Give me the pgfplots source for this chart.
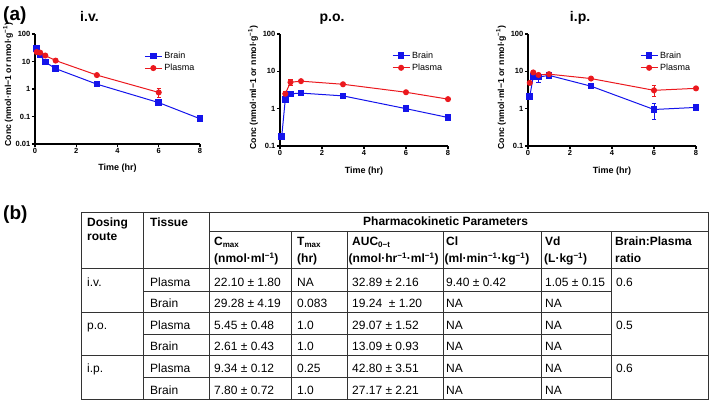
\documentclass[border=0pt]{standalone}
\usepackage{fontspec}
\setmainfont{Liberation Sans}
\usepackage{pgfplots}
\pgfplotsset{compat=1.18}
\definecolor{mblue}{RGB}{20,20,235}
\definecolor{mred}{RGB}{235,25,30}
\newcommand{\tf}{\fontsize{12}{14}\selectfont}
\newcommand{\tb}{\fontsize{12}{14}\selectfont\bfseries}
\begin{document}
\begin{tikzpicture}
\useasboundingbox (0,0) rectangle (709pt,401pt);
% ---------- i.v. ----------
\begin{axis}[at={(35pt,257pt)}, anchor=south west, width=165pt, height=110pt,
   scale only axis, clip=false,
   axis x line*=bottom, axis y line*=left,
   axis line style={line width=1.3pt,black},
   ymode=log, xmin=0, xmax=8,
   xtick={0,2,4,6,8}, xticklabels={0,2,4,6,8},
   yminorticks=false,
   tick align=outside, major tick length=3pt,
   major tick style={black, line width=1.1pt},
   ticklabel style={font=\fontsize{7.5}{9}\selectfont\bfseries, inner sep=1.5pt},
   xlabel={Time (hr)},
   xlabel style={font=\fontsize{9}{10}\selectfont\bfseries, at={(axis description cs:0.5,-0.245)}, anchor=base},
   ylabel={Conc (nmol·ml−1 or nmol·g\textsuperscript{−1})},
   ylabel style={font=\fontsize{8.7}{10}\selectfont\bfseries, at={(axis description cs:-0.163,0.54)}, anchor=center},
   legend style={draw=none, fill=none, at={(axis description cs:0.655,0.865)}, anchor=north west, font=\fontsize{9}{10}\selectfont, inner sep=1pt},
   legend cell align=left,
   ymin=0.01, ymax=100, ytick={0.01,0.1,1,10,100}, yticklabels={0.01,0.1,1,10,100},
   title={i.v.}, title style={font=\fontsize{14}{16}\selectfont\bfseries, anchor=base, at={(axis description cs:0.33,1.055)}}]
\addplot[color=mblue, line width=1pt, mark=square*, mark size=2.8pt,
   error bars/.cd, y dir=both, y explicit,
   error bar style={line width=0.8pt},
   error mark options={rotate=90, mark size=2.2pt, line width=0.8pt}] coordinates {
 (0.083,29.28) +- (0,4.19)
 (0.25,17) +- (0,2)
 (0.5,9.5) +- (0,1)
 (1,5.5) +- (0,0.5)
 (3,1.5) +- (0,0.1)
 (6,0.32) +- (0,0.06)
 (8,0.083) +- (0,0.005)
};
\addplot[color=mred, line width=1pt, mark=*, mark size=2.5pt,
   error bars/.cd, y dir=both, y explicit,
   error bar style={line width=0.8pt},
   error mark options={rotate=90, mark size=2.2pt, line width=0.8pt}] coordinates {
 (0.083,22.1) +- (0,1.8)
 (0.25,21) +- (0,1.5)
 (0.5,16.5) +- (0,1)
 (1,10.8) +- (0,0.5)
 (3,3.2) +- (0,0.2)
 (6,0.75) +- (0,0.27)
};
\legend{Brain,Plasma}
\end{axis}
% ---------- p.o. ----------
\begin{axis}[at={(280pt,255pt)}, anchor=south west, width=168pt, height=112pt,
   scale only axis, clip=false,
   axis x line*=bottom, axis y line*=left,
   axis line style={line width=1.3pt,black},
   ymode=log, xmin=0, xmax=8,
   xtick={0,2,4,6,8}, xticklabels={0,2,4,6,8},
   yminorticks=false,
   tick align=outside, major tick length=3pt,
   major tick style={black, line width=1.1pt},
   ticklabel style={font=\fontsize{7.5}{9}\selectfont\bfseries, inner sep=1.5pt},
   xlabel={Time (hr)},
   xlabel style={font=\fontsize{9}{10}\selectfont\bfseries, at={(axis description cs:0.5,-0.245)}, anchor=base},
   ylabel={Conc (nmol·ml−1 or nmol·g\textsuperscript{−1})},
   ylabel style={font=\fontsize{8.7}{10}\selectfont\bfseries, at={(axis description cs:-0.16,0.52)}, anchor=center},
   legend style={draw=none, fill=none, at={(axis description cs:0.66,0.87)}, anchor=north west, font=\fontsize{9}{10}\selectfont, inner sep=1pt},
   legend cell align=left,
   ymin=0.1, ymax=100, ytick={0.1,1,10,100}, yticklabels={0.1,1,10,100},
   title={p.o.}, title style={font=\fontsize{14}{16}\selectfont\bfseries, anchor=base, at={(axis description cs:0.31,1.055)}}]
\addplot[color=mblue, line width=1pt, mark=square*, mark size=2.8pt,
   error bars/.cd, y dir=both, y explicit,
   error bar style={line width=0.8pt},
   error mark options={rotate=90, mark size=2.2pt, line width=0.8pt}] coordinates {
 (0.083,0.18) +- (0,0.02)
 (0.25,1.75) +- (0,0.3)
 (0.5,2.5) +- (0,0.3)
 (1,2.61) +- (0,0.3)
 (3,2.2) +- (0,0.15)
 (6,1.0) +- (0,0.05)
 (8,0.58) +- (0,0.06)
};
\addplot[color=mred, line width=1pt, mark=*, mark size=2.5pt,
   error bars/.cd, y dir=both, y explicit,
   error bar style={line width=0.8pt},
   error mark options={rotate=90, mark size=2.2pt, line width=0.8pt}] coordinates {
 (0.25,2.5) +- (0,0.45)
 (0.5,5.1) +- (0,0.9)
 (1,5.45) +- (0,0.48)
 (3,4.5) +- (0,0.3)
 (6,2.75) +- (0,0.15)
 (8,1.8) +- (0,0.1)
};
\legend{Brain,Plasma}
\end{axis}
% ---------- i.p. ----------
\begin{axis}[at={(528pt,255pt)}, anchor=south west, width=168pt, height=112pt,
   scale only axis, clip=false,
   axis x line*=bottom, axis y line*=left,
   axis line style={line width=1.3pt,black},
   ymode=log, xmin=0, xmax=8,
   xtick={0,2,4,6,8}, xticklabels={0,2,4,6,8},
   yminorticks=false,
   tick align=outside, major tick length=3pt,
   major tick style={black, line width=1.1pt},
   ticklabel style={font=\fontsize{7.5}{9}\selectfont\bfseries, inner sep=1.5pt},
   xlabel={Time (hr)},
   xlabel style={font=\fontsize{9}{10}\selectfont\bfseries, at={(axis description cs:0.5,-0.245)}, anchor=base},
   ylabel={Conc (nmol·ml−1 or nmol·g\textsuperscript{−1})},
   ylabel style={font=\fontsize{8.7}{10}\selectfont\bfseries, at={(axis description cs:-0.16,0.52)}, anchor=center},
   legend style={draw=none, fill=none, at={(axis description cs:0.66,0.87)}, anchor=north west, font=\fontsize{9}{10}\selectfont, inner sep=1pt},
   legend cell align=left,
   ymin=0.1, ymax=100, ytick={0.1,1,10,100}, yticklabels={0.1,1,10,100},
   title={i.p.}, title style={font=\fontsize{14}{16}\selectfont\bfseries, anchor=base, at={(axis description cs:0.31,1.055)}}]
\addplot[color=mblue, line width=1pt, mark=square*, mark size=2.8pt,
   error bars/.cd, y dir=both, y explicit,
   error bar style={line width=0.8pt},
   error mark options={rotate=90, mark size=2.2pt, line width=0.8pt}] coordinates {
 (0.083,2.1) +- (0,0.3)
 (0.25,7.3) +- (0,1)
 (0.5,7.0) +- (0,2)
 (1,7.8) +- (0,0.72)
 (3,4.0) +- (0,0.3)
 (6,0.95) +- (0,0.42)
 (8,1.08) +- (0,0.12)
};
\addplot[color=mred, line width=1pt, mark=*, mark size=2.5pt,
   error bars/.cd, y dir=both, y explicit,
   error bar style={line width=0.8pt},
   error mark options={rotate=90, mark size=2.2pt, line width=0.8pt}] coordinates {
 (0.083,4.9) +- (0,0.5)
 (0.25,9.34) +- (0,0.5)
 (0.5,8.0) +- (0,1.0)
 (1,8.4) +- (0,0.5)
 (3,6.4) +- (0,0.4)
 (6,3.1) +- (0,1.0)
 (8,3.5) +- (0,0.3)
};
\legend{Brain,Plasma}
\end{axis}
% ---------- panel labels and table (pixel coordinates) ----------
\begin{scope}[x=1pt,y=-1pt,shift={(0pt,401pt)}]
\node[anchor=base west, inner sep=0, font=\fontsize{19}{21}\selectfont\bfseries] at (3,21) {(a)};
\node[anchor=base west, inner sep=0, font=\fontsize{19}{21}\selectfont\bfseries] at (3,220) {(b)};
\begin{scope}[line width=0.8pt, draw=black!80]
\draw (81,212) rectangle (708,399);
\draw (209,231) -- (708,231);
\draw (81,268.5) -- (708,268.5);
\foreach \yy in {312,355} \draw (81,\yy) -- (708,\yy);
\foreach \yy in {291,334,377} \draw (143,\yy) -- (611,\yy);
\draw (143,212) -- (143,399);
\draw (209,212) -- (209,399);
\foreach \xx in {291,347,443,541,611} \draw (\xx,231) -- (\xx,399);
\end{scope}
\begin{scope}[every node/.style={anchor=base west, inner sep=0}]
\node[font=\tb] at (87,227) {Dosing};
\node[font=\tb] at (87,241) {route};
\node[font=\tb] at (150,227) {Tissue};
\node[font=\tb] at (363,226) {Pharmacokinetic Parameters};
\node[font=\tb] at (214,246) {C\textsubscript{max}};
\node[font=\tb] at (214,263) {(nmol·ml\textsuperscript{−1})};
\node[font=\tb] at (297,246) {T\textsubscript{max}};
\node[font=\tb] at (297,263) {(hr)};
\node[font=\tb] at (352,246) {AUC\textsubscript{0−t}};
\node[font=\tb] at (348.5,263) {(nmol·hr\textsuperscript{−1}·ml\textsuperscript{−1})};
\node[font=\tb] at (446,246) {Cl};
\node[font=\tb] at (444.5,263) {(ml·min\textsuperscript{−1}·kg\textsuperscript{−1})};
\node[font=\tb] at (545,246) {Vd};
\node[font=\tb] at (544,263) {(L·kg\textsuperscript{−1})};
\node[font=\tb] at (615,246) {Brain:Plasma};
\node[font=\tb] at (615,263) {ratio};
\node[font=\tf] at (87,286.5) {i.v.};
\node[font=\tf] at (87,329.5) {p.o.};
\node[font=\tf] at (87,372.5) {i.p.};
\node[font=\tf] at (150,286.5) {Plasma};
\node[font=\tf] at (150,307.5) {Brain};
\node[font=\tf] at (150,329.5) {Plasma};
\node[font=\tf] at (150,350.5) {Brain};
\node[font=\tf] at (150,372.5) {Plasma};
\node[font=\tf] at (150,394.5) {Brain};
\node[font=\tf] at (214,286.5) {22.10 ± 1.80};
\node[font=\tf] at (214,307.5) {29.28 ± 4.19};
\node[font=\tf] at (214,329.5) {5.45 ± 0.48};
\node[font=\tf] at (214,350.5) {2.61 ± 0.43};
\node[font=\tf] at (214,372.5) {9.34 ± 0.12};
\node[font=\tf] at (214,394.5) {7.80 ± 0.72};
\node[font=\tf] at (297,286.5) {NA};
\node[font=\tf] at (297,307.5) {0.083};
\node[font=\tf] at (297,329.5) {1.0};
\node[font=\tf] at (297,350.5) {1.0};
\node[font=\tf] at (297,372.5) {0.25};
\node[font=\tf] at (297,394.5) {1.0};
\node[font=\tf] at (352,286.5) {32.89 ± 2.16};
\node[font=\tf] at (352,307.5) {19.24 \ ± 1.20};
\node[font=\tf] at (352,329.5) {29.07 ± 1.52};
\node[font=\tf] at (352,350.5) {13.09 ± 0.93};
\node[font=\tf] at (352,372.5) {42.80 ± 3.51};
\node[font=\tf] at (352,394.5) {27.17 ± 2.21};
\node[font=\tf] at (446,286.5) {9.40 ± 0.42};
\node[font=\tf] at (446,307.5) {NA};
\node[font=\tf] at (446,329.5) {NA};
\node[font=\tf] at (446,350.5) {NA};
\node[font=\tf] at (446,372.5) {NA};
\node[font=\tf] at (446,394.5) {NA};
\node[font=\tf] at (545,286.5) {1.05 ± 0.15};
\node[font=\tf] at (545,307.5) {NA};
\node[font=\tf] at (545,329.5) {NA};
\node[font=\tf] at (545,350.5) {NA};
\node[font=\tf] at (545,372.5) {NA};
\node[font=\tf] at (545,394.5) {NA};
\node[font=\tf] at (616,286.5) {0.6};
\node[font=\tf] at (616,329.5) {0.5};
\node[font=\tf] at (616,372.5) {0.6};
\end{scope}
\end{scope}
\end{tikzpicture}
\end{document}
